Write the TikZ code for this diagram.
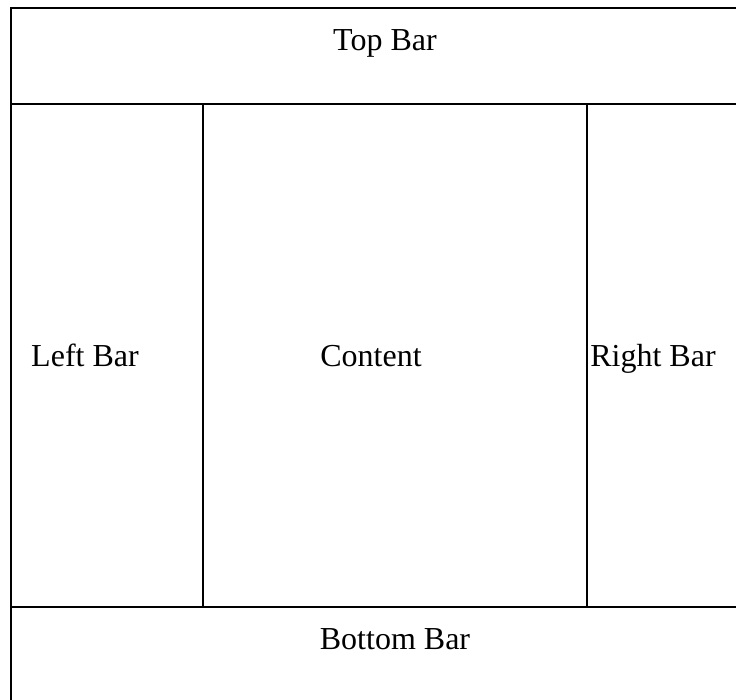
\documentclass[tikz,border=0pt]{standalone}
\usepackage{fontspec}
\setmainfont{Liberation Serif}
\begin{document}
\begin{tikzpicture}[x=0.75pt,y=-0.75pt,
   frame/.style={line width=1.5pt},
   barlabel/.style={font=\fontsize{24}{29}\selectfont,inner sep=0pt,anchor=base}]
   \useasboundingbox (0,0) rectangle (736,700);
   % outer frame and dividing lines
   \draw[frame] (11,8) rectangle (748,712);
   \draw[frame] (11,104) -- (748,104);
   \draw[frame] (11,607) -- (748,607);
   \draw[frame] (203,104) -- (203,607);
   \draw[frame] (587,104) -- (587,607);
   % labels
   \node[barlabel] (top) at (385,50) {Top Bar};
   \node[barlabel] (left) at (85,366) {Left Bar};
   \node[barlabel] (content) at (371,366) {Content};
   \node[barlabel] (right) at (653,366) {Right Bar};
   \node[barlabel] (bottom) at (395,649) {Bottom Bar};
\end{tikzpicture}
\end{document}
